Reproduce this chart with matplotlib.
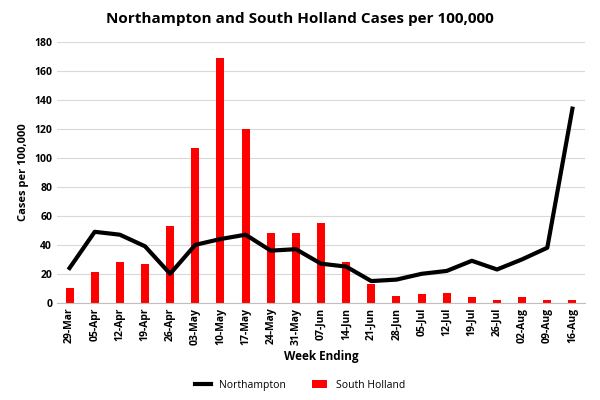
import matplotlib
matplotlib.use("Agg")
import matplotlib.pyplot as plt
import numpy as np

weeks = ["29-Mar","05-Apr","12-Apr","19-Apr","26-Apr","03-May","10-May","17-May","24-May","31-May",
         "07-Jun","14-Jun","21-Jun","28-Jun","05-Jul","12-Jul","19-Jul","26-Jul","02-Aug","09-Aug","16-Aug"]
south_holland = [10,21,28,27,53,107,169,120,48,48,55,28,13,5,6,7,4,2,4,2,2]
northampton = [24,49,47,39,20,40,44,47,36,37,27,25,15,16,20,22,29,23,30,38,134]

plt.rcParams['font.family'] = ['Open Sans', 'DejaVu Sans']
fig = plt.figure(figsize=(6,4), dpi=100)
ax = fig.add_axes([0.095, 0.243, 0.88, 0.652])
x = np.arange(len(weeks))
ax.bar(x, south_holland, width=0.32, color='#ff0000', label='South Holland', zorder=2)
ax.plot(x, northampton, color='black', lw=3, label='Northampton', zorder=3)
ax.set_xlim(-0.5, len(weeks)-0.5)
ax.set_ylim(0, 180)
ax.set_yticks(range(0, 181, 20))
ax.set_xticks(x)
ax.set_xticklabels(weeks, rotation=90, fontsize=7.5, fontweight='bold')
ax.tick_params(axis='y', labelsize=7.5, length=0)
for l in ax.get_yticklabels():
    l.set_fontweight('bold')
ax.tick_params(axis='x', length=0)
ax.grid(axis='y', color='#d9d9d9', lw=0.8, zorder=0)
for s in ['top','right','left']:
    ax.spines[s].set_visible(False)
ax.spines['bottom'].set_color('#bfbfbf')
ax.set_ylabel('Cases per 100,000', fontsize=8, fontweight='bold')
ax.set_xlabel('Week Ending', fontsize=8.5, fontweight='bold')
fig.suptitle('Northampton and South Holland Cases per 100,000', fontsize=11, fontweight='bold', y=0.97)
fig.legend(loc='lower center', ncol=2, frameon=False, fontsize=7.5, bbox_to_anchor=(0.5, 0.0), handlelength=1.5, columnspacing=2.5)
fig.savefig('out.png')
